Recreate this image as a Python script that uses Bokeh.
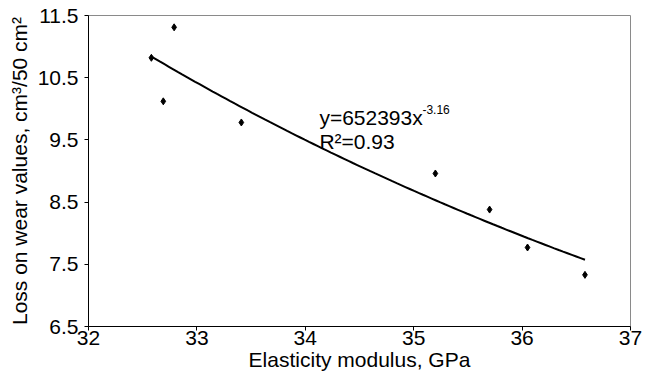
import numpy as np
from bokeh.plotting import figure
from bokeh.models import FixedTicker, Range1d, Label
from bokeh.embed import file_html
from bokeh.resources import INLINE

# Data
modulus = [32.58, 32.69, 32.79, 33.41, 35.20, 35.70, 36.05, 36.58]
wear_loss = [10.82, 10.12, 11.31, 9.78, 8.96, 8.38, 7.77, 7.33]

# Trendline label text as printed on the chart
eq_coef = "652393"
eq_exp = "-3.16"
r2_text = "0.93"

x_ticks = [32, 33, 34, 35, 36, 37]
y_ticks = [6.5, 7.5, 8.5, 9.5, 10.5, 11.5]

FONT = "Liberation Sans"

p = figure(width=658, height=379, output_backend="svg", toolbar_location=None,
           x_range=Range1d(32, 37), y_range=Range1d(6.5, 11.5),
           min_border_left=88, min_border_right=28, min_border_top=15, min_border_bottom=53)
p.background_fill_color = "white"
p.border_fill_color = "white"
p.outline_line_color = "#8a8a8a"
p.outline_line_width = 1
p.xgrid.visible = False
p.ygrid.visible = False

# Power trendline (least squares in log-log space, as a spreadsheet trendline does)
lx = np.log(np.array(modulus))
ly = np.log(np.array(wear_loss))
b, ln_a = np.polyfit(lx, ly, 1)
tx = np.linspace(min(modulus), max(modulus), 100)
ty = np.exp(ln_a) * tx ** b
p.line(tx, ty, line_color="black", line_width=2)
p.scatter(modulus, wear_loss, marker="diamond", size=7, color="black")

for ax in (p.xaxis, p.yaxis):
    ax.major_label_text_font = FONT
    ax.major_label_text_font_size = "21px"
    ax.major_label_text_color = "black"
    ax.axis_label_text_font = FONT
    ax.axis_label_text_font_size = "21px"
    ax.axis_label_text_font_style = "normal"
    ax.axis_label_text_color = "black"
    ax.axis_line_color = "black"
    ax.major_tick_line_color = "black"
    ax.major_tick_out = 4
    ax.major_tick_in = 0
    ax.minor_tick_line_color = None

p.xaxis.ticker = FixedTicker(ticks=x_ticks)
p.yaxis.ticker = FixedTicker(ticks=y_ticks)
p.xaxis.axis_label = "Elasticity modulus, GPa"
p.yaxis.axis_label = "Loss on wear values, cm\u00b3/50 cm\u00b2"
p.xaxis.major_label_standoff = 0
p.xaxis.axis_label_standoff = 0
p.yaxis.major_label_standoff = 6
p.yaxis.axis_label_standoff = 4

eq = Label(x=34.13, y=9.86, text="y=" + eq_coef + "x", text_font=FONT, text_font_size="21px",
           text_color="black", text_baseline="alphabetic")
sup = Label(x=34.13, y=9.86, x_offset=103, y_offset=8, text=eq_exp,
            text_font=FONT, text_font_size="12px", text_color="black", text_baseline="alphabetic")
r2 = Label(x=34.13, y=9.47, text="R\u00b2=" + r2_text, text_font=FONT, text_font_size="21px",
           text_color="black", text_baseline="alphabetic")
p.add_layout(eq)
p.add_layout(sup)
p.add_layout(r2)

open("out.html", "w").write(file_html(p, INLINE))
